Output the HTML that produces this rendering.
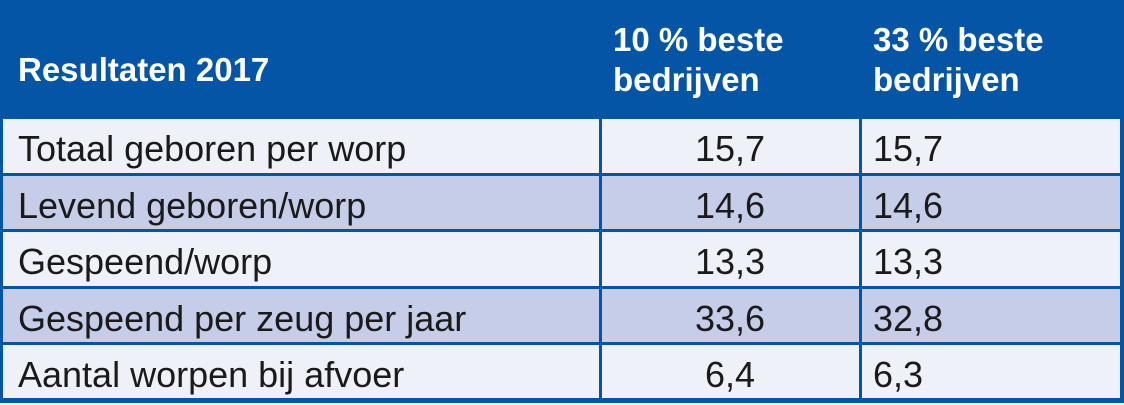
<!DOCTYPE html>
<html><head><style>
html,body{margin:0;padding:0;background:#fff;}
body{width:1124px;height:403px;overflow:hidden;position:relative;font-family:"Liberation Sans",sans-serif;}
.wrap{position:absolute;left:0;top:0;width:1124px;height:403px;}
.hdr{position:absolute;left:0;top:0;width:1124px;height:119px;background:#0455a6;}
.h{position:absolute;color:#fff;font-weight:bold;font-size:33px;line-height:40px;}
.row{position:absolute;left:0;width:1124px;height:56px;box-sizing:border-box;border-top:3px solid #0455a6;}
.l{background:#eef1f8}.d{background:#c6cde8}
.c{position:absolute;top:0;height:53px;line-height:60px;font-size:36px;color:#1a1a1a;}
.vl{position:absolute;top:119px;height:284px;width:3px;background:#0455a6;}
</style></head><body><div class="wrap">
<div class="hdr"></div>
<div class="h" style="left:18px;top:50px;">Resultaten 2017</div>
<div class="h" style="left:613px;top:20px;">10 % beste<br>bedrijven</div>
<div class="h" style="left:873px;top:20px;">33 % beste<br>bedrijven</div>
<div class="row l" style="top:119px;height:55px;border-top:none"><div class="c" style="left:18px">Totaal geboren per worp</div><div class="c" style="left:600px;width:260px;text-align:center">15,7</div><div class="c" style="left:873px">15,7</div></div>
<div class="row d" style="top:173px"><div class="c" style="left:18px">Levend geboren/worp</div><div class="c" style="left:600px;width:260px;text-align:center">14,6</div><div class="c" style="left:873px">14,6</div></div>
<div class="row l" style="top:229px;height:58px"><div class="c" style="left:18px">Gespeend/worp</div><div class="c" style="left:600px;width:260px;text-align:center">13,3</div><div class="c" style="left:873px">13,3</div></div>
<div class="row d" style="top:286px"><div class="c" style="left:18px">Gespeend per zeug per jaar</div><div class="c" style="left:600px;width:260px;text-align:center">33,6</div><div class="c" style="left:873px">32,8</div></div>
<div class="row l" style="top:342px;height:58px"><div class="c" style="left:18px">Aantal worpen bij afvoer</div><div class="c" style="left:600px;width:260px;text-align:center">6,4</div><div class="c" style="left:873px">6,3</div></div>
<div style="position:absolute;left:0;top:398px;width:1124px;height:5px;background:#0455a6"></div>
<div class="vl" style="left:0"></div>
<div class="vl" style="left:599px"></div>
<div class="vl" style="left:859px"></div>
<div class="vl" style="left:1120px;width:4px"></div>
</div></body></html>
